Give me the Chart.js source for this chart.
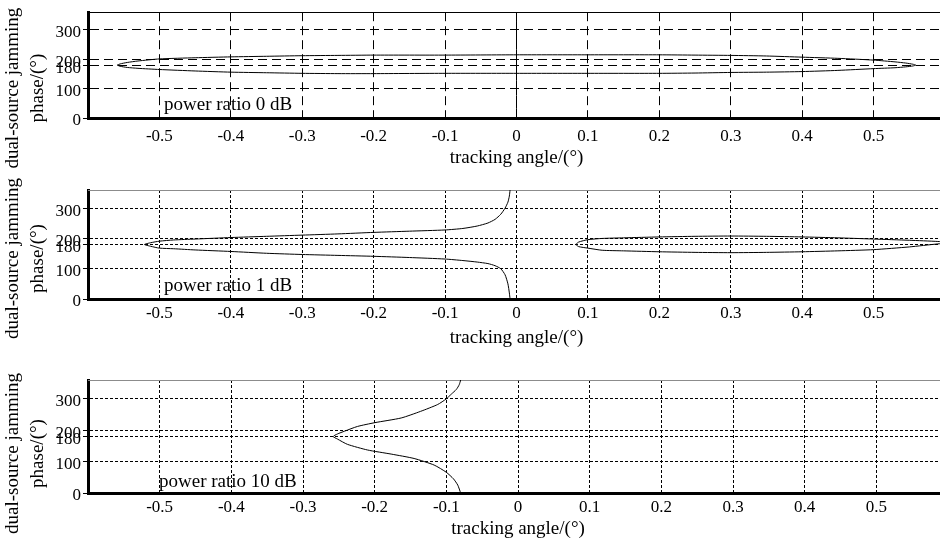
<!DOCTYPE html>
<html>
<head>
<meta charset="utf-8">
<title>Dual-source jamming phase vs tracking angle</title>
<script src="https://cdn.jsdelivr.net/npm/chart.js@4.4.1/dist/chart.umd.min.js"></script>
<style>
  html, body { margin: 0; padding: 0; background: #fff; width: 940px; height: 540px; overflow: hidden; }
  canvas { position: absolute; left: 0; display: block; }
</style>
</head>
<body>
<canvas id="p0" width="950" height="170" style="top:0px"></canvas>
<canvas id="p1" width="950" height="180" style="top:170px"></canvas>
<canvas id="p2" width="950" height="190" style="top:350px"></canvas>
<script>
// Axis ticks and texts
const angleTicks = [-0.5, -0.4, -0.3, -0.2, -0.1, 0, 0.1, 0.2, 0.3, 0.4, 0.5];
const phaseTicks = [0, 100, 180, 200, 300];
const angleRange = [-0.6, 0.6];
const phaseRange = [0, 360];
const axisTitleX = 'tracking angle/(°)';
const axisTitleY = ['dual-source jamming', 'phase/(°)'];
const ratioLabels = ['power ratio 0 dB', 'power ratio 1 dB', 'power ratio 10 dB'];

// 0 dB: closed contour (upper edge left to right, then lower edge back)
const ratio0Angle = [-0.559, -0.555, -0.545, -0.53, -0.5, -0.45, -0.4, -0.35, -0.3, -0.25, -0.2, -0.1, 0, 0.1, 0.2, 0.25, 0.3, 0.35, 0.4, 0.45, 0.5, 0.53, 0.545, 0.555, 0.559,
                     0.555, 0.545, 0.53, 0.5, 0.45, 0.4, 0.35, 0.3, 0.25, 0.2, 0.1, 0, -0.1, -0.2, -0.25, -0.3, -0.35, -0.4, -0.45, -0.5, -0.53, -0.545, -0.555, -0.559];
const ratio0Phase = [180, 184, 189, 194, 201, 205, 208, 210, 212, 213, 214, 214, 215, 215, 215, 214, 213, 211, 207, 203, 197, 191, 187, 183, 180,
                     177, 174, 171, 168, 162, 158, 156, 155, 153, 152, 152, 152, 152, 151, 151, 152, 154, 156, 160, 165, 169, 172, 176, 180];
// 0 dB: vertical branch at zero tracking angle
const ratio0ZeroAngle = [0, 0];
const ratio0ZeroPhase = [0, 360];

// 1 dB: open branch on the negative side
const ratio1LeftAngle = [-0.009, -0.010, -0.012, -0.016, -0.022, -0.03, -0.04, -0.055, -0.075, -0.1, -0.15, -0.2, -0.25, -0.3, -0.35, -0.4, -0.45, -0.48, -0.5, -0.512, -0.521,
                         -0.512, -0.5, -0.48, -0.45, -0.4, -0.35, -0.3, -0.25, -0.2, -0.15, -0.1, -0.075, -0.055, -0.04, -0.03, -0.022, -0.016, -0.012, -0.010, -0.009];
const ratio1LeftPhase = [360, 340, 320, 300, 280, 263, 251, 241, 233, 228, 224, 220, 215, 211, 207, 203, 198, 195, 191, 186, 180,
                         174, 168, 166, 162, 157, 151, 147, 144, 141, 137, 132, 127, 122, 117, 110, 100, 80, 50, 20, 0];
// 1 dB: closed contour on the positive side
const ratio1RightAngle = [0.083, 0.087, 0.1, 0.12, 0.15, 0.2, 0.25, 0.3, 0.35, 0.4, 0.45, 0.5, 0.55, 0.59, 0.61,
                          0.59, 0.55, 0.5, 0.45, 0.4, 0.35, 0.3, 0.25, 0.2, 0.15, 0.12, 0.1, 0.087, 0.083];
const ratio1RightPhase = [180, 188, 196, 200, 202, 205, 207, 208, 207, 205, 202, 198, 194, 190, 186,
                          182, 172, 163, 159, 156, 154, 153, 154, 156, 159, 161, 168, 173, 180];

// 10 dB: single branch
const ratio10Angle = [-0.080, -0.082, -0.086, -0.093, -0.1, -0.112, -0.136, -0.163, -0.2, -0.224, -0.242, -0.252, -0.258,
                      -0.252, -0.238, -0.21, -0.177, -0.145, -0.117, -0.1, -0.09, -0.084, -0.080];
const ratio10Phase = [360, 345, 330, 315, 300, 282, 260, 239, 224, 212, 197, 188, 180,
                      172, 155, 137, 124, 110, 89, 66, 45, 25, 0];

const SERIF = '"Liberation Serif", "Times New Roman", Times, serif';

function pts(xs, ys) {
  return xs.map((x, i) => ({ x: x, y: ys[i] }));
}

// Ratio note inside each plot and the two-line rotated y title
const panelNotes = {
  id: 'panelNotes',
  afterDraw(chart, _args, o) {
    const ctx = chart.ctx;
    const a = chart.chartArea;
    ctx.save();
    ctx.fillStyle = '#000';
    ctx.font = '19px ' + SERIF;
    ctx.textAlign = 'left';
    ctx.textBaseline = 'alphabetic';
    ctx.fillText(o.note, a.left + o.noteDx, a.bottom - o.noteDy);
    const yc = (a.top + a.bottom) / 2 + o.titleShift;
    ctx.textAlign = 'center';
    ctx.textBaseline = 'middle';
    axisTitleY.forEach((line, i) => {
      ctx.save();
      ctx.translate(o.titleCols[i], yc);
      ctx.rotate(-Math.PI / 2);
      ctx.fillText(line, 0, 0);
      ctx.restore();
    });
    ctx.restore();
  }
};

function makePanel(id, cfg, curves) {
  return new Chart(document.getElementById(id), {
    type: 'scatter',
    data: {
      datasets: curves.map(([xs, ys]) => ({
        data: pts(xs, ys),
        showLine: true,
        borderColor: '#000',
        borderWidth: 1,
        pointRadius: 0,
        tension: 0.2,
        fill: false
      }))
    },
    options: {
      responsive: false,
      animation: false,
      devicePixelRatio: 1,
      events: [],
      layout: { padding: { top: cfg.padTop, right: cfg.padRight, left: 0, bottom: 0 } },
      plugins: {
        legend: { display: false },
        tooltip: { enabled: false },
        panelNotes: { note: cfg.note, noteDx: cfg.noteDx, noteDy: cfg.noteDy, titleShift: cfg.titleShift, titleCols: [13, 38] }
      },
      scales: {
        x: {
          type: 'linear',
          position: 'bottom',
          min: angleRange[0],
          max: angleRange[1],
          afterBuildTicks: s => { s.ticks = angleTicks.map(v => ({ value: v })); },
          afterFit: s => { s.height = cfg.xHeight; },
          grid: { color: '#000', lineWidth: 1, drawTicks: false },
          border: { display: true, color: '#000', width: 3, dash: cfg.dash },
          ticks: {
            color: '#000', font: { family: SERIF, size: 17 }, padding: cfg.tickPad,
            maxRotation: 0, autoSkip: false, callback: v => String(v)
          },
          title: {
            display: true, text: axisTitleX, color: '#000',
            font: { family: SERIF, size: 19 }, padding: { top: 0, bottom: cfg.titlePad }
          }
        },
        y: {
          type: 'linear',
          position: 'left',
          min: phaseRange[0],
          max: phaseRange[1],
          afterBuildTicks: s => { s.ticks = phaseTicks.map(v => ({ value: v })); },
          afterFit: s => { s.width = 88; },
          grid: { color: '#000', lineWidth: 1, drawTicks: true, tickLength: 5, tickColor: '#000' },
          border: { display: true, color: '#000', width: 3, dash: cfg.dash },
          ticks: {
            color: '#000', font: { family: SERIF, size: 17 }, padding: 2,
            autoSkip: false, labelOffset: 3, callback: v => String(v)
          }
        },
        xTop: {
          type: 'linear',
          position: 'top',
          min: angleRange[0],
          max: angleRange[1],
          afterFit: s => { s.height = 0; },
          grid: { display: false, drawTicks: false },
          border: { display: true, color: cfg.frameColor, width: 1 },
          ticks: { display: false }
        }
      }
    },
    plugins: [panelNotes]
  });
}

makePanel('p0', {
  padTop: 8, padRight: 5, xHeight: 52, tickPad: 8, titlePad: 0.6,
  dash: [9, 5], frameColor: '#000',
  note: ratioLabels[0], noteDx: 76, noteDy: 8, titleShift: 23
}, [[ratio0Angle, ratio0Phase], [ratio0ZeroAngle, ratio0ZeroPhase]]);

makePanel('p1', {
  padTop: 20, padRight: 5, xHeight: 51, tickPad: 4, titlePad: 0.6,
  dash: [3, 2], frameColor: '#8c8c8c',
  note: ratioLabels[1], noteDx: 76, noteDy: 8, titleShift: 14
}, [[ratio1LeftAngle, ratio1LeftPhase], [ratio1RightAngle, ratio1RightPhase]]);

makePanel('p2', {
  padTop: 30, padRight: 2, xHeight: 47, tickPad: 4, titlePad: 0,
  dash: [3, 2], frameColor: '#8c8c8c',
  note: ratioLabels[2], noteDx: 71, noteDy: 6, titleShift: 17
}, [[ratio10Angle, ratio10Phase]]);
</script>
</body>
</html>
